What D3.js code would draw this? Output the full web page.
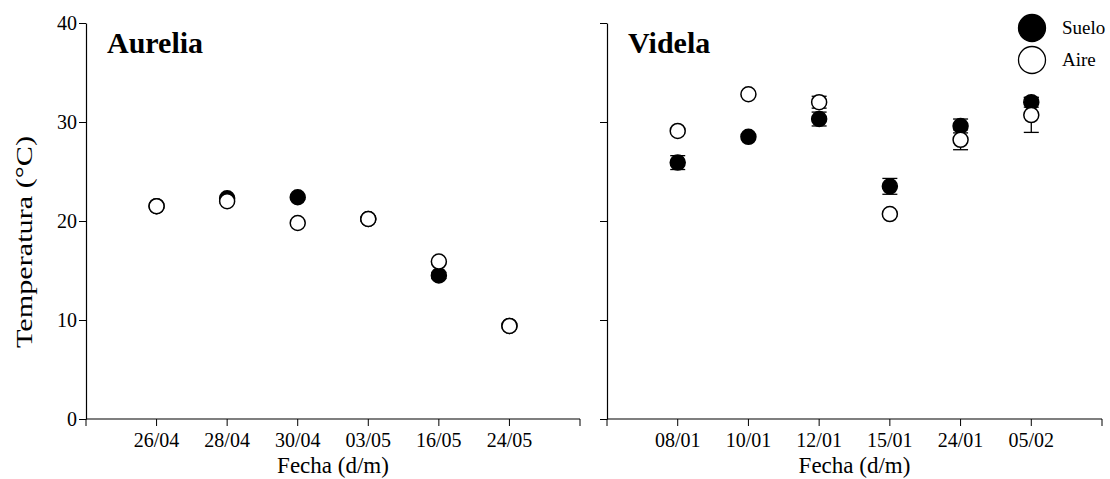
<!DOCTYPE html>
<html>
<head>
<meta charset="utf-8">
<script src="https://cdn.jsdelivr.net/npm/d3@7"></script>
<style>
  body { margin: 0; background: #fff; }
  svg { display: block; font-family: "Liberation Serif", "Times New Roman", serif; }
</style>
</head>
<body>
<div id="chart"></div>
<script>
const yTicks = [0, 10, 20, 30, 40];

const datesAurelia = ["26/04", "28/04", "30/04", "03/05", "16/05", "24/05"];
const sueloAurelia = [21.5, 22.3, 22.4, 20.2, 14.5, 9.4];
const sueloAureliaErr = [0.2, 0.2, 0.2, 0.2, 0.3, 0.2];
const aireAurelia = [21.5, 22.0, 19.8, 20.2, 15.9, 9.4];
const aireAureliaErr = [0.2, 0.2, 0.1, 0.2, 0.2, 0.3];

const datesVidela = ["08/01", "10/01", "12/01", "15/01", "24/01", "05/02"];
const sueloVidela = [25.9, 28.5, 30.3, 23.5, 29.6, 32.0];
const sueloVidelaErr = [0.7, 0.2, 0.7, 0.8, 0.7, 0.5];
const aireVidela = [29.1, 32.8, 32.0, 20.7, 28.2, 30.7];
const aireVidelaErr = [0.2, 0.2, 0.6, 0.2, 1.0, 1.75];

const width = 1110;
const height = 479;
const plotTop = 23, plotBottom = 419;
const r = 7.5;

const svg = d3.select("#chart").append("svg")
  .attr("width", width)
  .attr("height", height);

const y = d3.scaleLinear().domain([0, 40]).range([plotBottom, plotTop]);

function panel(x0, x1, title, dates, suelo, sueloErr, aire, aireErr, showLabels) {
  const x = d3.scalePoint().domain(dates).range([x0, x1]).padding(1);
  const g = svg.append("g");

  // y axis
  const yAxis = g.append("g")
    .attr("transform", "translate(" + x0 + ",0)")
    .call(d3.axisLeft(y).tickValues(yTicks).tickSize(7).tickSizeOuter(0)
      .tickFormat(showLabels ? d3.format("d") : ""));
  yAxis.select(".domain").attr("stroke-width", 1.2);
  yAxis.selectAll("text").style("font-size", "20px").attr("fill", "#000")
    .attr("font-family", "Liberation Serif").attr("x", -9);

  // x axis: ticks at the ends and at each date
  const xAxis = g.append("g").attr("transform", "translate(0," + plotBottom + ")");
  xAxis.append("line").attr("x1", x0).attr("x2", x1).attr("stroke", "#000").attr("stroke-width", 1.2);
  const tickPos = [x0, x1].concat(dates.map(d => x(d)));
  xAxis.selectAll(".tk").data(tickPos).join("line")
    .attr("x1", d => d).attr("x2", d => d).attr("y1", 0).attr("y2", 7)
    .attr("stroke", "#000");
  xAxis.selectAll(".lbl").data(dates).join("text")
    .attr("x", d => x(d)).attr("y", 28)
    .attr("text-anchor", "middle")
    .style("font-size", "20px")
    .text(d => d);

  g.append("text")
    .attr("x", (x0 + x1) / 2).attr("y", 473)
    .attr("text-anchor", "middle")
    .style("font-size", "23px")
    .text("Fecha (d/m)");

  g.append("text")
    .attr("x", x0 + 21).attr("y", 53)
    .style("font-size", "30px").style("font-weight", "bold")
    .text(title);

  const series = [
    { vals: suelo, err: sueloErr, fill: "#000" },
    { vals: aire, err: aireErr, fill: "#fff" }
  ];

  // error bars under the symbols
  series.forEach(s => {
    dates.forEach((d, i) => {
      const cx = x(d);
      const ya = y(s.vals[i] + s.err[i]);
      const yb = y(s.vals[i] - s.err[i]);
      g.append("line").attr("x1", cx).attr("x2", cx).attr("y1", ya).attr("y2", yb)
        .attr("stroke", "#000").attr("stroke-width", 1.3);
      [ya, yb].forEach(yy => {
        g.append("line").attr("x1", cx - 7.5).attr("x2", cx + 7.5).attr("y1", yy).attr("y2", yy)
          .attr("stroke", "#000").attr("stroke-width", 1.3);
      });
    });
  });

  series.forEach(s => {
    g.selectAll(null).data(dates).join("circle")
      .attr("cx", d => x(d))
      .attr("cy", (d, i) => y(s.vals[i]))
      .attr("r", r)
      .attr("fill", s.fill)
      .attr("stroke", "#000")
      .attr("stroke-width", 1.5);
  });
}

panel(86, 580, "Aurelia", datesAurelia, sueloAurelia, sueloAureliaErr, aireAurelia, aireAureliaErr, true);
panel(607, 1102, "Videla", datesVidela, sueloVidela, sueloVidelaErr, aireVidela, aireVidelaErr, false);

// y axis title (stretched along its length like the original)
svg.append("text")
  .attr("transform", "translate(32,242) rotate(-90)")
  .attr("text-anchor", "middle")
  .attr("textLength", 212)
  .attr("lengthAdjust", "spacingAndGlyphs")
  .style("font-size", "23px")
  .text("Temperatura (°C)");

// legend
const legendItems = [
  { name: "Suelo", fill: "#000" },
  { name: "Aire", fill: "#fff" }
];
const legend = svg.append("g").attr("transform", "translate(1032,28)");
legendItems.forEach((item, i) => {
  legend.append("circle")
    .attr("cx", 0).attr("cy", i * 32).attr("r", 13.5)
    .attr("fill", item.fill).attr("stroke", "#000").attr("stroke-width", 1.3);
  legend.append("text")
    .attr("x", 30).attr("y", i * 32 + 6)
    .style("font-size", "19px")
    .text(item.name);
});
</script>
</body>
</html>
